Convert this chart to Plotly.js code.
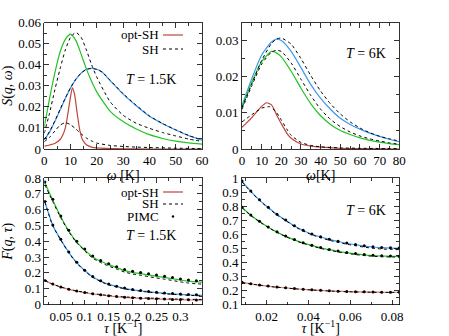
<!DOCTYPE html>
<html><head><meta charset="utf-8">
<script src="https://cdn.plot.ly/plotly-3.0.1.min.js"></script>
<style>html,body{margin:0;padding:0;background:#fff}#chart{width:449px;height:336px}</style>
</head><body><div id="chart"></div>
<script>
// ---------- Top-left: S(q,w), T = 1.5K ----------
const tlGreenW = [0,2,4,6,8,10,12,14,16,18,20,25,30,35,40,45,50,55,60];
const tlGreenOpt = [0.0106,0.024,0.036,0.046,0.052,0.0545,0.0515,0.045,0.038,0.032,0.027,0.018,0.013,0.0095,0.0068,0.005,0.0037,0.0029,0.0023];
const tlGreenSH  = [0.0075,0.017,0.028,0.038,0.047,0.053,0.0553,0.053,0.047,0.040,0.034,0.0225,0.016,0.0122,0.0098,0.0078,0.0062,0.0047,0.0036];
const tlBlueW = [0,2,4,6,8,10,12,14,16,18,20,22,25,30,35,40,45,50,55,60];
const tlBlueOpt = [0.0043,0.008,0.013,0.0185,0.024,0.029,0.033,0.036,0.0378,0.0383,0.0378,0.0365,0.0325,0.026,0.0205,0.0155,0.012,0.009,0.0063,0.0042];
const tlBlueSH  = [0.0045,0.0083,0.0133,0.0188,0.0242,0.0291,0.0331,0.036,0.0377,0.0382,0.0377,0.0365,0.0327,0.0262,0.0207,0.0157,0.0121,0.0091,0.0064,0.0043];
const tlRedOptW = [0,2,4,6,7,8,9,10,10.7,11.5,12.5,13.5,14.5,16,18,20,25,30,40,60];
const tlRedOpt  = [0.0014,0.0019,0.0026,0.0045,0.0065,0.010,0.017,0.025,0.029,0.026,0.017,0.009,0.0045,0.002,0.0009,0.0005,0.0002,0.0001,0,0];
const tlRedSHW = [0,2,4,6,8,10,12,14,16,18,20,25,30,35,40,50,60];
const tlRedSH  = [0.0035,0.0055,0.0085,0.0113,0.0125,0.0115,0.0095,0.0072,0.0052,0.0038,0.0028,0.0017,0.0012,0.0009,0.0007,0.0004,0.0002];

// ---------- Top-right: S(q,w), T = 6K ----------
const trW = [0,5,10,15,17.5,20,25,30,35,40,45,50,55,60,65,70,75,80];
const trBlueOpt = [0.012,0.0195,0.026,0.0296,0.0304,0.030,0.027,0.0225,0.0178,0.014,0.011,0.0085,0.0068,0.0055,0.0044,0.0035,0.0027,0.002];
const trBlueSH  = [0.0115,0.018,0.0245,0.0292,0.0304,0.0307,0.029,0.025,0.0203,0.016,0.0125,0.0097,0.0075,0.0058,0.0045,0.0035,0.0028,0.0022];
const trGreenOpt = [0.0115,0.0185,0.0242,0.027,0.0266,0.0255,0.0215,0.0168,0.0125,0.0092,0.0068,0.0051,0.004,0.0031,0.0024,0.0019,0.0015,0.0012];
const trGreenSH  = [0.011,0.0175,0.0235,0.0268,0.0273,0.027,0.0238,0.0193,0.0148,0.011,0.0082,0.0062,0.0047,0.0036,0.0028,0.0022,0.0017,0.0013];
const trRedOptW = [0,5,10,12.5,15,18,20,23,25,30,35,40,50,60,80];
const trRedOpt  = [0.006,0.0087,0.0118,0.0128,0.0122,0.009,0.007,0.0042,0.003,0.0014,0.0008,0.0005,0.0002,0.0001,0];
const trRedSHW = [0,5,10,14,17,20,23,25,30,35,40,50,60,80];
const trRedSH  = [0.0075,0.0095,0.0113,0.0117,0.0105,0.008,0.0053,0.0038,0.0018,0.001,0.0006,0.0003,0.0002,0.0001];

// ---------- Bottom-left: F(q,tau), T = 1.5K ----------
const blTau = [0.0167,0.0333,0.05,0.0667,0.0833,0.1,0.1167,0.1333,0.15,0.1667,0.1833,0.2,0.2167,0.2333,0.25,0.2667,0.2833,0.3,0.3167,0.3333,0.345];
const blGreenOpt = [0.77,0.66,0.555,0.465,0.395,0.345,0.3,0.273,0.252,0.233,0.214,0.203,0.195,0.187,0.179,0.171,0.163,0.155,0.148,0.143,0.141];
const blGreenSH  = [0.757,0.65,0.548,0.46,0.39,0.339,0.293,0.265,0.243,0.224,0.205,0.193,0.185,0.176,0.168,0.16,0.152,0.143,0.136,0.131,0.129];
const blGreenPIMC= [0.774,0.665,0.56,0.47,0.4,0.351,0.306,0.279,0.258,0.239,0.221,0.21,0.202,0.194,0.186,0.178,0.17,0.162,0.155,0.15];
const blBlueOpt = [0.65,0.5,0.41,0.33,0.265,0.215,0.175,0.148,0.127,0.114,0.102,0.093,0.087,0.081,0.076,0.071,0.067,0.064,0.061,0.059,0.058];
const blBlueSH  = [0.647,0.497,0.407,0.327,0.262,0.212,0.172,0.145,0.124,0.111,0.099,0.09,0.084,0.078,0.073,0.068,0.064,0.061,0.058,0.056,0.055];
const blBluePIMC= [0.652,0.502,0.412,0.332,0.267,0.217,0.177,0.15,0.129,0.116,0.104,0.095,0.089,0.083,0.078,0.073,0.069,0.066,0.063,0.061];
const blRedOpt = [0.151,0.128,0.11,0.096,0.084,0.075,0.067,0.06,0.054,0.049,0.045,0.042,0.039,0.037,0.035,0.033,0.031,0.03,0.029,0.028,0.028];
const blRedSH  = [0.151,0.129,0.111,0.097,0.086,0.077,0.069,0.063,0.057,0.052,0.048,0.045,0.043,0.041,0.039,0.037,0.035,0.034,0.033,0.032,0.032];
const blRedPIMC= [0.152,0.129,0.111,0.097,0.085,0.076,0.068,0.061,0.055,0.05,0.046,0.043,0.04,0.038,0.036,0.034,0.032,0.031,0.03,0.029];

// ---------- Bottom-right: F(q,tau), T = 6K ----------
const brTau = [0.00833,0.0125,0.01667,0.02083,0.025,0.02917,0.03333,0.0375,0.04167,0.04583,0.05,0.05417,0.05833,0.0625,0.06667,0.07083,0.075,0.07917,0.08333];
const brBlueOpt = [0.975,0.905,0.843,0.79,0.74,0.70,0.658,0.627,0.60,0.58,0.563,0.548,0.536,0.525,0.516,0.509,0.504,0.501,0.50];
const brBlueSH  = [0.972,0.902,0.84,0.787,0.737,0.697,0.655,0.623,0.596,0.575,0.557,0.542,0.529,0.518,0.508,0.5,0.495,0.492,0.49];
const brBluePIMC= [0.978,0.907,0.845,0.792,0.742,0.702,0.66,0.629,0.602,0.582,0.565,0.55,0.538,0.527,0.518,0.511,0.506,0.503,0.502];
const brGreenOpt = [0.79,0.735,0.69,0.65,0.615,0.585,0.56,0.538,0.52,0.503,0.49,0.478,0.468,0.46,0.453,0.448,0.445,0.443,0.442];
const brGreenSH  = [0.788,0.733,0.688,0.648,0.613,0.583,0.557,0.535,0.516,0.499,0.486,0.474,0.464,0.455,0.448,0.443,0.44,0.438,0.437];
const brGreenPIMC= [0.792,0.737,0.692,0.652,0.617,0.587,0.562,0.54,0.522,0.505,0.492,0.48,0.47,0.462,0.455,0.45,0.447,0.445,0.444];
const brRedOpt = [0.257,0.247,0.238,0.23,0.224,0.218,0.213,0.208,0.204,0.2,0.197,0.194,0.192,0.19,0.189,0.188,0.187,0.187,0.187];
const brRedSH  = [0.256,0.246,0.237,0.229,0.223,0.217,0.212,0.207,0.203,0.199,0.196,0.193,0.191,0.189,0.188,0.187,0.186,0.186,0.186];
const brRedPIMC= [0.258,0.248,0.239,0.231,0.225,0.219,0.214,0.209,0.205,0.201,0.198,0.195,0.193,0.191,0.19,0.189,0.188,0.188,0.188];

const legendLabels = ['opt-SH','SH','PIMC'];
const tempLabels = ['<i>T</i> = 1.5K','<i>T</i> = 6K'];

// ---------- styles ----------
const GREEN = '#22c422', BLUE = '#3a98f0', RED = '#c0443c';
const FONT = 'Liberation Serif, Times New Roman, serif';

function line(x, y, color, xa, ya, dash, width) {
  return {x: x, y: y, xaxis: xa, yaxis: ya, type: 'scatter', mode: 'lines',
    line: {color: color, width: width || 1.2, dash: dash || 'solid', shape: 'spline', smoothing: 0.6},
    showlegend: false, hoverinfo: 'skip'};
}
function dots(x, y, xa, ya) {
  return {x: x, y: y, xaxis: xa, yaxis: ya, type: 'scatter', mode: 'markers',
    marker: {color: '#000', size: 3}, showlegend: false, hoverinfo: 'skip'};
}
const DASH = '3px,3px';
const nBL = blGreenPIMC.length;

const traces = [
  line(tlGreenW, tlGreenOpt, GREEN, 'x', 'y'),
  line(tlBlueW, tlBlueOpt, BLUE, 'x', 'y'),
  line(tlRedOptW, tlRedOpt, RED, 'x', 'y'),
  line(tlGreenW, tlGreenSH, '#000', 'x', 'y', DASH, 1),
  line(tlBlueW, tlBlueSH, '#000', 'x', 'y', DASH, 1),
  line(tlRedSHW, tlRedSH, '#000', 'x', 'y', DASH, 1),
  line(trW, trBlueOpt, BLUE, 'x2', 'y2'),
  line(trW, trGreenOpt, GREEN, 'x2', 'y2'),
  line(trRedOptW, trRedOpt, RED, 'x2', 'y2'),
  line(trW, trBlueSH, '#000', 'x2', 'y2', DASH, 1),
  line(trW, trGreenSH, '#000', 'x2', 'y2', DASH, 1),
  line(trRedSHW, trRedSH, '#000', 'x2', 'y2', DASH, 1),
  line(blTau, blGreenOpt, GREEN, 'x3', 'y3'),
  line(blTau, blBlueOpt, BLUE, 'x3', 'y3'),
  line(blTau, blRedOpt, '#e07a74', 'x3', 'y3'),
  line(blTau, blGreenSH, '#000', 'x3', 'y3', DASH, 1),
  line(blTau, blBlueSH, '#000', 'x3', 'y3', DASH, 1),
  line(blTau, blRedSH, '#000', 'x3', 'y3', DASH, 1),
  dots(blTau.slice(0, nBL), blGreenPIMC, 'x3', 'y3'),
  dots(blTau.slice(0, nBL), blBluePIMC, 'x3', 'y3'),
  dots(blTau.slice(0, nBL), blRedPIMC, 'x3', 'y3'),
  line(brTau, brBlueOpt, BLUE, 'x4', 'y4'),
  line(brTau, brGreenOpt, GREEN, 'x4', 'y4'),
  line(brTau, brRedOpt, '#e07a74', 'x4', 'y4'),
  line(brTau, brBlueSH, '#000', 'x4', 'y4', DASH, 1),
  line(brTau, brGreenSH, '#000', 'x4', 'y4', DASH, 1),
  line(brTau, brRedSH, '#000', 'x4', 'y4', DASH, 1),
  dots(brTau, brBluePIMC, 'x4', 'y4'),
  dots(brTau, brGreenPIMC, 'x4', 'y4'),
  dots(brTau, brRedPIMC, 'x4', 'y4')
];

const W = 449, H = 336;
const px = v => v / W, py = v => 1 - v / H;
const tickFont = {family: FONT, size: 13, color: '#000'};
function ax(domain, range, dtick, minorDtick, anchor, extra) {
  return Object.assign({
    domain: domain, range: range, anchor: anchor, dtick: dtick, tick0: 0,
    ticks: 'inside', ticklen: 5, tickwidth: 0.8, tickcolor: '#000',
    showline: true, linecolor: '#000', linewidth: 0.8, mirror: 'ticks',
    showgrid: false, zeroline: false, tickfont: tickFont, fixedrange: true,
    tickformat: '~g', tickangle: 0, automargin: false,
    minor: {dtick: minorDtick, ticks: 'inside', ticklen: 3, tickcolor: '#000', tickwidth: 0.8, showgrid: false}
  }, extra || {});
}
const xL = [px(44.3), px(202)], xR = [px(242), px(399.3)];
const yT = [py(149), py(22.5)], yB = [py(304.5), py(178)];

const annFont = {family: FONT, size: 13, color: '#000'};
function txt(x, y, t, xanchor, size) {
  return {xref: 'paper', yref: 'paper', x: px(x), y: py(y), text: t, showarrow: false,
    xanchor: xanchor || 'center', yanchor: 'middle', borderpad: 0,
    font: Object.assign({}, annFont, {size: size || 13})};
}
const annotations = [
  txt(160, 35, legendLabels[0], 'right'), txt(160, 49, legendLabels[1], 'right'),
  txt(151, 79, tempLabels[0], 'center', 14),
  txt(366, 53, tempLabels[1], 'center', 14),
  txt(160, 192, legendLabels[0], 'right'), txt(160, 204, legendLabels[1], 'right'), txt(160, 216.5, legendLabels[2], 'right'),
  txt(151, 236, tempLabels[0], 'center', 14),
  txt(366, 210, tempLabels[1], 'center', 14)
];
function seg(x0, x1, y, color, dash) {
  return {type: 'line', xref: 'paper', yref: 'paper', x0: px(x0), x1: px(x1), y0: py(y), y1: py(y),
    line: {color: color, width: 1.2, dash: dash || 'solid'}};
}
const shapes = [
  seg(163, 183, 35, RED), seg(163, 183, 49, '#000', DASH),
  seg(163, 183, 192, RED), seg(163, 183, 204, '#000', DASH),
  {type: 'circle', xref: 'paper', yref: 'paper', x0: px(171.8), x1: px(174.2), y0: py(217.7), y1: py(215.3), fillcolor: '#000', line: {width: 0}}
];

const titleFont = {family: FONT, size: 14, color: '#000'};
const layout = {
  width: W, height: H, margin: {l: 0, r: 0, t: 0, b: 0},
  paper_bgcolor: '#fff', plot_bgcolor: '#fff', showlegend: false,
  xaxis: ax(xL, [0, 60], 10, 5, 'y', {title: {text: '<i>ω</i> [K]', font: titleFont, standoff: 0}}),
  yaxis: ax(yT, [0, 0.06], 0.01, 0.005, 'x', {title: {text: '<i>S</i>(<i>q</i>, <i>ω</i>)', font: titleFont, standoff: 4}}),
  xaxis2: ax(xR, [0, 80], 10, 5, 'y2', {title: {text: '<i>ω</i>[K]', font: titleFont, standoff: 0}}),
  yaxis2: ax(yT, [0, 0.035], 0.01, 0.005, 'x2'),
  xaxis3: ax(xL, [0.0155, 0.345], 0.05, 0.025, 'y3', {title: {text: '<i>τ</i> [K<sup>−1</sup>]', font: titleFont, standoff: 2}}),
  yaxis3: ax(yB, [0, 0.8], 0.1, 0.05, 'x3', {title: {text: '<i>F</i>(<i>q</i>, <i>τ</i>)', font: titleFont, standoff: 8}}),
  xaxis4: ax(xR, [0.0083, 0.0834], 0.02, 0.01, 'y4', {title: {text: '<i>τ</i> [K<sup>−1</sup>]', font: titleFont, standoff: 2}}),
  yaxis4: ax(yB, [0.1, 1], 0.1, 0.05, 'x4'),
  annotations: annotations, shapes: shapes
};
Plotly.newPlot('chart', traces, layout, {staticPlot: true, displayModeBar: false});
</script></body></html>
